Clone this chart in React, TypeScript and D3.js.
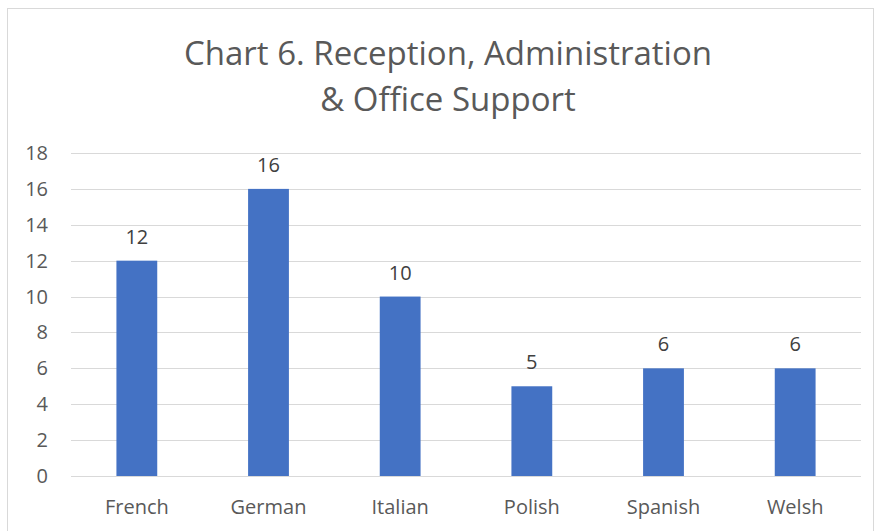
import React, { useEffect, useRef } from 'react';
import * as d3 from 'd3';

const categories = ['French', 'German', 'Italian', 'Polish', 'Spanish', 'Welsh'];
const values = [12, 16, 10, 5, 6, 6];
const yTicks = [0, 2, 4, 6, 8, 10, 12, 14, 16, 18];
const titleLines = ['Chart 6. Reception, Administration', '& Office Support'];

const W = 879;
const H = 531;
const FONT = '"Open Sans", Carlito, Calibri, sans-serif';

const App: React.FC = () => {
    const ref = useRef<SVGSVGElement | null>(null);

    useEffect(() => {
        document.body.style.margin = '0';
        const svg = d3.select(ref.current);
        svg.selectAll('*').remove();

        const left = 71, right = 861, top = 153, bottom = 476;

        // chart border
        svg.append('rect')
            .attr('x', 7.5).attr('y', 8.5)
            .attr('width', 866).attr('height', 540)
            .attr('fill', '#fff')
            .attr('stroke', '#d9d9d9')
            .attr('stroke-width', 1);

        const x = d3.scaleBand<string>()
            .domain(categories)
            .range([left, right])
            .paddingInner(0.69)
            .paddingOuter(0.345);

        const y = d3.scaleLinear()
            .domain([0, 18])
            .range([bottom, top]);

        // gridlines
        svg.append('g')
            .selectAll('line')
            .data(yTicks)
            .join('line')
            .attr('x1', left).attr('x2', right)
            .attr('y1', d => Math.round(y(d)) + 0.5)
            .attr('y2', d => Math.round(y(d)) + 0.5)
            .attr('stroke', '#d9d9d9')
            .attr('stroke-width', 1);

        // y labels
        svg.append('g')
            .selectAll('text')
            .data(yTicks)
            .join('text')
            .attr('x', 48)
            .attr('y', d => y(d))
            .attr('dy', '0.35em')
            .attr('text-anchor', 'end')
            .attr('font-family', FONT)
            .attr('font-size', 20)
            .attr('fill', '#595959')
            .text(d => d);

        // bars
        svg.append('g')
            .selectAll('rect')
            .data(values)
            .join('rect')
            .attr('x', (d, i) => x(categories[i]) as number)
            .attr('y', d => y(d))
            .attr('width', x.bandwidth())
            .attr('height', d => y(0) - y(d))
            .attr('fill', '#4472c4');

        // data labels
        svg.append('g')
            .selectAll('text')
            .data(values)
            .join('text')
            .attr('x', (d, i) => (x(categories[i]) as number) + x.bandwidth() / 2)
            .attr('y', d => y(d) - 17)
            .attr('text-anchor', 'middle')
            .attr('font-family', FONT)
            .attr('font-size', 20)
            .attr('fill', '#404040')
            .text(d => d);

        // x labels
        svg.append('g')
            .selectAll('text')
            .data(categories)
            .join('text')
            .attr('x', d => (x(d) as number) + x.bandwidth() / 2)
            .attr('y', 514)
            .attr('text-anchor', 'middle')
            .attr('font-family', FONT)
            .attr('font-size', 20)
            .attr('fill', '#595959')
            .text(d => d);

        // title
        svg.append('g')
            .selectAll('text')
            .data(titleLines)
            .join('text')
            .attr('x', 448)
            .attr('y', (d, i) => 65 + i * 46)
            .attr('text-anchor', 'middle')
            .attr('font-family', FONT)
            .attr('font-size', 33)
            .attr('fill', '#595959')
            .text(d => d);
    }, []);

    return (
        <svg ref={ref} width={W} height={H}
            style={{ position: 'absolute', left: 0, top: 0, display: 'block' }} />
    );
};

export default App;
